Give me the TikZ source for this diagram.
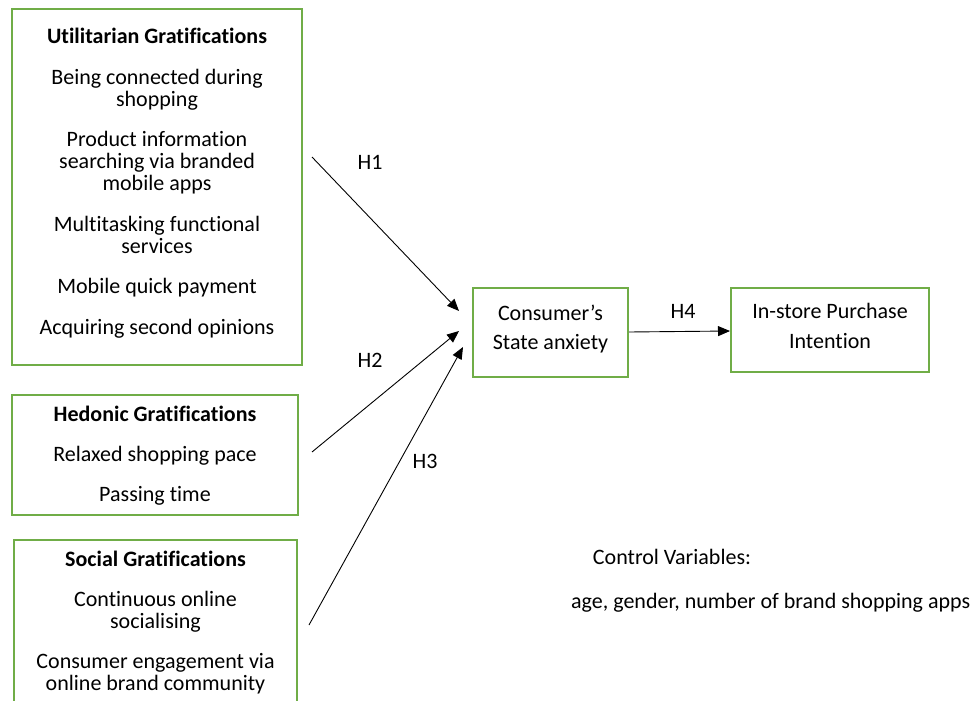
\documentclass[tikz,border=0pt]{standalone}
\usepackage{fontspec}
\setmainfont{Carlito}[Ligatures=NoCommon]
\usetikzlibrary{arrows.meta}
\definecolor{boxgreen}{HTML}{70AD47}
\begin{document}
\begin{tikzpicture}[x=1pt,y=-1pt,
  gbox/.style={draw=boxgreen,line width=2pt,inner sep=0pt},
  txt/.style={align=center,inner sep=0pt,font=\fontsize{22}{22}\selectfont},
  lbl/.style={font=\fontsize{22}{22}\selectfont,inner sep=0pt},
  arr/.style={line width=0.9pt,-{Triangle[length=12pt,width=10pt]}}]
\useasboundingbox (0,0) rectangle (975,701);
\node[gbox,minimum width=290pt,minimum height=356pt] (U) at (157,187) {};
\node[txt] (Ut) at ([yshift=4pt]U.center)
  {\textbf{Utilitarian Gratifications}\\[18.5pt]
   Being connected during\\ shopping\\[18.5pt]
   Product information\\ searching via branded\\ mobile apps\\[18.5pt]
   Multitasking functional\\ services\\[18.5pt]
   Mobile quick payment\\[18.5pt]
   Acquiring second opinions};
\node[gbox,minimum width=286pt,minimum height=120pt] (H) at (155,455) {};
\node[txt] (Ht) at ([yshift=-0.5pt]H.center)
  {\textbf{Hedonic Gratifications}\\[18pt]
   Relaxed shopping pace\\[18pt]
   Passing time};
\node[gbox,minimum width=283pt,minimum height=164pt] (S) at (155.5,622) {};
\node[txt] (St) at ([yshift=-0.5pt]S.center)
  {\textbf{Social Gratifications}\\[18pt]
   Continuous online\\ socialising\\[18pt]
   Consumer engagement via\\ online brand community};
\node[gbox,minimum width=155pt,minimum height=89pt] (C) at (550.5,332.5) {};
\node[txt,font=\fontsize{22}{29}\selectfont] (Ct) at ([yshift=3.5pt]C.center)
  {Consumer’s\\ State anxiety};
\node[gbox,minimum width=198pt,minimum height=84pt] (P) at (830,330) {};
\node[txt,font=\fontsize{22}{30}\selectfont] (Pt) at ([yshift=4pt]P.center)
  {In-store Purchase\\ Intention};
\coordinate (u1) at (312,157);
\coordinate (h1) at (312,452);
\coordinate (s1) at (309,625);
\coordinate (c1) at (459,311);
\coordinate (c2) at (459,331);
\coordinate (c3) at (463,347);
\draw[arr] (u1) -- (c1);
\draw[arr] (h1) -- (c2);
\draw[arr] (s1) -- (c3);
\draw[arr] (C.east |- 0,332) -- (P.west |- 0,331);
\node[lbl] (L1) at (370,162) {H1};
\node[lbl] (L2) at (370,360) {H2};
\node[lbl] (L3) at (425,461) {H3};
\node[lbl] (L4) at (683,311) {H4};
\node[lbl] (cv) at (672,557) {Control Variables:};
\node[lbl,anchor=west] (cl) at (571,603) {age, gender, number of brand shopping apps};
\end{tikzpicture}
\end{document}
